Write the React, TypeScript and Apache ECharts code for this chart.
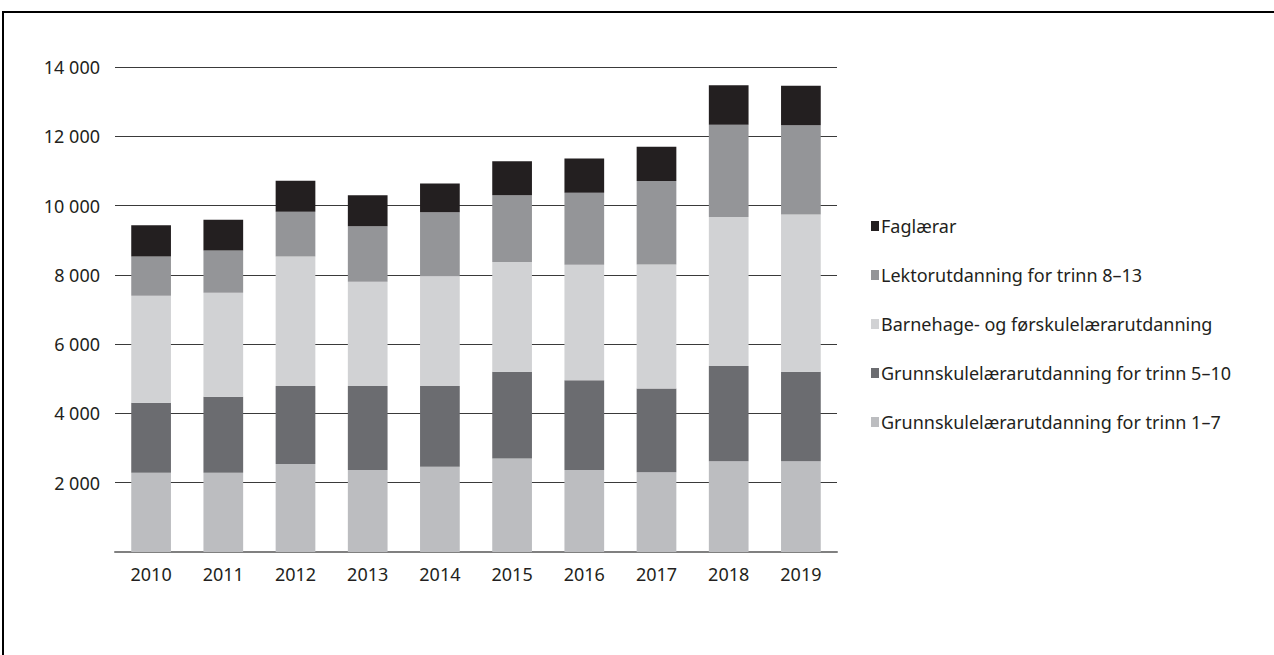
import React, { useEffect, useRef } from "react";
import * as echarts from "echarts";

const years = ["2010", "2011", "2012", "2013", "2014", "2015", "2016", "2017", "2018", "2019"];

const seriesNames = [
  "Grunnskulelærarutdanning for trinn 1–7",
  "Grunnskulelærarutdanning for trinn 5–10",
  "Barnehage- og førskulelærarutdanning",
  "Lektorutdanning for trinn 8–13",
  "Faglærar",
];

const grunn17 = [2290, 2290, 2540, 2370, 2460, 2700, 2370, 2300, 2620, 2620];
const grunn510 = [2020, 2190, 2250, 2420, 2330, 2500, 2590, 2420, 2750, 2580];
const barnehage = [3090, 3000, 3740, 3010, 3170, 3170, 3330, 3580, 4300, 4540];
const lektor = [1130, 1220, 1290, 1600, 1850, 1930, 2080, 2410, 2660, 2580];
const faglaerar = [900, 890, 900, 900, 830, 980, 990, 990, 1140, 1140];

const yTickLabels: Record<number, string> = {
  2000: "2 000",
  4000: "4 000",
  6000: "6 000",
  8000: "8 000",
  10000: "10 000",
  12000: "12 000",
  14000: "14 000",
};

const colors = ["#bcbdc0", "#6b6c70", "#d1d2d4", "#949598", "#231f20"];
const textColor = "#231f20";
const fontFamily = "'Noto Sans', sans-serif";

export default function App() {
  const ref = useRef<HTMLDivElement>(null);

  useEffect(() => {
    if (!ref.current) return;
    const chart = echarts.init(ref.current, null, { renderer: "svg" });
    const values = [grunn17, grunn510, barnehage, lektor, faglaerar];
    chart.setOption({
      animation: false,
      backgroundColor: "#ffffff",
      textStyle: { fontFamily, color: textColor },
      graphic: [
        {
          type: "rect",
          shape: { x: 3, y: 12, width: 1300, height: 700 },
          style: { fill: "none", stroke: "#000000", lineWidth: 2 },
          silent: true,
          z: 100,
        },
      ],
      grid: { left: 115, right: 437, top: 67, bottom: 103, containLabel: false },
      legend: {
        orient: "vertical",
        left: 866,
        top: 212,
        itemWidth: 8,
        itemHeight: 10,
        itemGap: 31,
        icon: "rect",
        data: [...seriesNames].reverse(),
        textStyle: { fontFamily, fontSize: 18, color: textColor, padding: [0, 0, 0, -3] },
        selectedMode: false,
      },
      xAxis: {
        type: "category",
        data: years,
        axisLine: { show: true, lineStyle: { color: "#808080", width: 2 } },
        axisTick: { show: false },
        axisLabel: { fontFamily, fontSize: 18, color: textColor, margin: 13 },
      },
      yAxis: {
        type: "value",
        min: 0,
        max: 14000,
        interval: 2000,
        axisLine: { show: false },
        axisTick: { show: false },
        splitLine: { show: true, lineStyle: { color: "#3a3a3a", width: 1 } },
        axisLabel: {
          fontFamily,
          fontSize: 18,
          color: textColor,
          margin: 15,
          formatter: (v: number) => yTickLabels[v] ?? "",
        },
      },
      series: seriesNames.map((name, i) => ({
        name,
        type: "bar",
        stack: "total",
        barWidth: "55%",
        itemStyle: { color: colors[i] },
        data: values[i],
      })),
    });
    return () => chart.dispose();
  }, []);

  return (
    <div
      ref={ref}
      style={{ position: "fixed", left: 0, top: 0, width: 1274, height: 655, background: "#fff" }}
    />
  );
}
